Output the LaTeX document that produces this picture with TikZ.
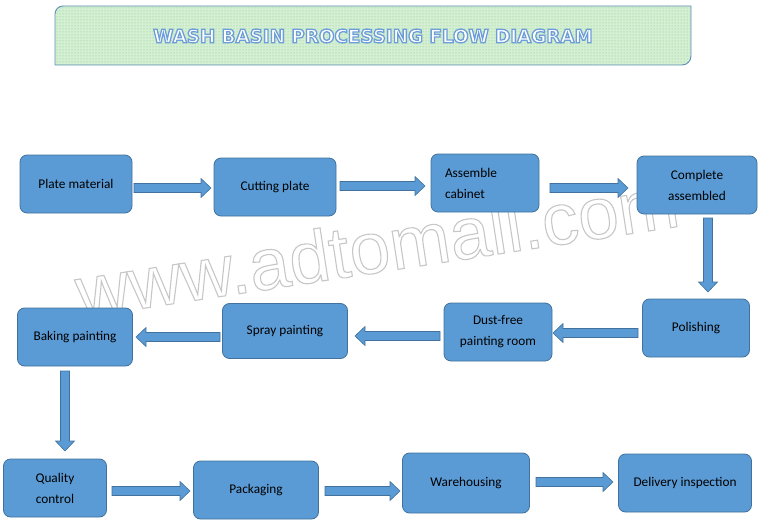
\documentclass[tikz,border=0pt]{standalone}
\usepackage{fontspec}
\setmainfont{Carlito}
\newfontfamily\titlefont{DejaVu Sans}
\newfontfamily\markfont{Liberation Sans}
\usetikzlibrary{patterns}
\definecolor{boxfill}{HTML}{5B9BD5}
\definecolor{boxline}{HTML}{41719C}
\definecolor{titlefill}{HTML}{D4EFD4}
\definecolor{titledot}{HTML}{7CCB7C}
\definecolor{titleline}{HTML}{5E8FB8}
\newcommand\outlinetext[3]{\special{pdf:literal direct 2 Tr #2 w #1 RG}#3\special{pdf:literal direct 0 Tr}}
\tikzset{
  stepbox/.style={draw=boxline, line width=0.8pt, fill=boxfill, rounded corners=7pt,
    minimum width=#1, minimum height=58pt, inner sep=2pt,
    font=\fontsize{13.3}{21}\selectfont, align=center},
  stepbox/.default=112pt,
  arrowbody/.style={draw=boxline, fill=boxfill, line width=0.6pt, line join=miter},
}
% horizontal block arrow: x-start, x-end, y
\newcommand\hblock[3]{%
  \pgfmathsetmacro\hd{(#2>#1) ? -10 : 10}%
  \draw[arrowbody] (#1,#3-4.5) -- (#2+\hd,#3-4.5) -- (#2+\hd,#3-9.5) -- (#2,#3)
    -- (#2+\hd,#3+9.5) -- (#2+\hd,#3+4.5) -- (#1,#3+4.5) -- cycle;}
% vertical block arrow: x, y-start, y-end
\newcommand\vblock[3]{%
  \pgfmathsetmacro\vd{(#3>#2) ? -10 : 10}%
  \draw[arrowbody] (#1-4.5,#2) -- (#1-4.5,#3+\vd) -- (#1-9.5,#3+\vd) -- (#1,#3)
    -- (#1+9.5,#3+\vd) -- (#1+4.5,#3+\vd) -- (#1+4.5,#2) -- cycle;}
\begin{document}
\begin{tikzpicture}[x=1pt,y=-1pt]
\useasboundingbox (0,0) rectangle (760,524);
% title banner
\def\bannerpath{(55,14) -- (55,65) -- (682,65) to[out=0,in=-90] (691,56) -- (691,6) -- (63,6) to[out=180,in=90] (55,14) -- cycle}
\path[fill=titlefill] \bannerpath;
\path[pattern=dots, pattern color=titledot] \bannerpath;
\draw[titleline, line width=0.9pt] \bannerpath;
\node[text=white, font=\titlefont\bfseries\fontsize{18.3}{20}\selectfont] (title) at (373,36)
  {\outlinetext{0.43 0.62 0.85}{1.3}{WASH BASIN PROCESSING FLOW DIAGRAM}};
% watermark
\node[text=white, rotate=8.7, anchor=base, font=\markfont\fontsize{73}{73}\selectfont] (wmark) at (381,272)
  {\outlinetext{0.78 0.78 0.78}{1.1}{www.adtomall.com}};
% boxes
\node[stepbox=112pt] (b1) at (76,184) {Plate material};
\node[stepbox=122pt] (b2) at (275,187) {Cutting plate};
\node[stepbox=108pt, align=left, text width=80pt, inner xsep=14pt] (b3) at (485,183) {Assemble\\cabinet};
\node[stepbox=120pt] (b4) at (697,185) {Complete\\assembled};
\node[stepbox=107pt] (b5) at (696,328) {Polishing};
\node[stepbox=108pt] (b6) at (498,332) {Dust-free\\painting room};
\node[stepbox=125pt, minimum height=55pt] (b7) at (285,331) {Spray painting};
\node[stepbox=115pt] (b8) at (75,337) {Baking painting};
\node[stepbox=103pt] (b9) at (55,488) {Quality\\control};
\node[stepbox=125pt] (b10) at (256,490) {Packaging};
\node[stepbox=127pt, minimum height=60pt] (b11) at (466,483) {Warehousing};
\node[stepbox=133pt] (b12) at (685,483) {Delivery inspection};
% block arrows
\hblock{134}{211}{188}
\hblock{340}{425}{186}
\hblock{550}{628}{188}
\vblock{708}{218}{292}
\hblock{638}{553}{333}
\hblock{440}{355}{336}
\hblock{220}{136}{337}
\vblock{65}{371}{451}
\hblock{112}{190}{491}
\hblock{325}{400}{491}
\hblock{536}{613}{482}
\end{tikzpicture}
\end{document}
